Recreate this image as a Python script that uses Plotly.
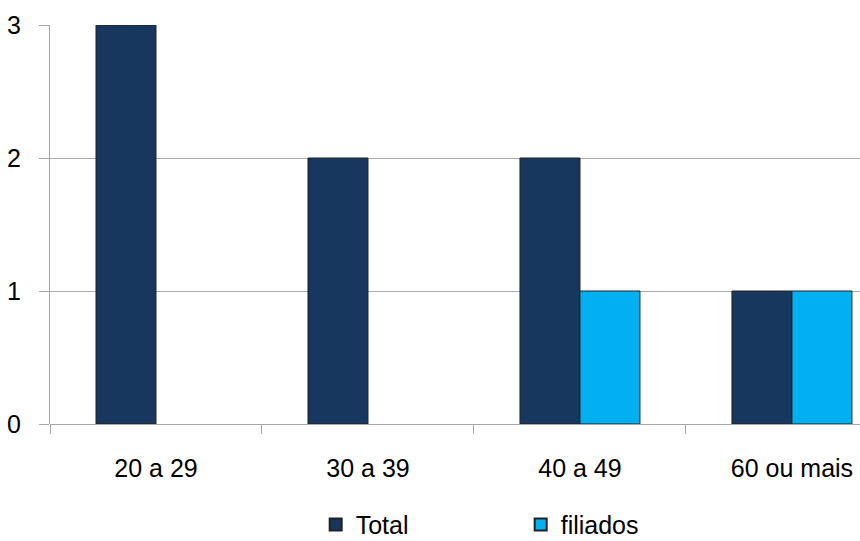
import plotly.graph_objects as go

categories = ["20 a 29", "30 a 39", "40 a 49", "60 ou mais"]
total = [3, 2, 2, 1]
filiados = [0, 0, 1, 1]
y_ticks = [0, 1, 2, 3]

font_family = "Liberation Sans, Arial, sans-serif"

def outline_widths(values):
    return [1 if v else 0 for v in values]

fig = go.Figure()
fig.add_trace(go.Bar(name="Total", x=categories, y=total,
                     marker=dict(color="#17375E",
                                 line=dict(color="#222222", width=outline_widths(total)))))
fig.add_trace(go.Bar(name="filiados", x=categories, y=filiados,
                     marker=dict(color="#00B0F0",
                                 line=dict(color="#222222", width=outline_widths(filiados)))))

fig.update_layout(
    width=860, height=541,
    margin=dict(l=50, r=0, t=25, b=117, autoexpand=False),
    paper_bgcolor="white", plot_bgcolor="white",
    barmode="group", bargap=0.434, bargroupgap=0,
    font=dict(family=font_family, size=25, color="black"),
    showlegend=True,
    legend=dict(orientation="h", x=0.328, xanchor="left", y=-0.195, yanchor="top",
                font=dict(size=25), entrywidth=160, entrywidthmode="pixels",
                itemsizing="constant"),
)
fig.update_xaxes(
    type="category", range=[-0.5, 3.321], automargin=False,
    showgrid=False, showline=False, zeroline=False,
    ticks="outside", tickson="boundaries", ticklen=9, tickcolor="#A6A6A6", tickwidth=1,
    ticklabelstandoff=27,
)
fig.update_yaxes(
    range=[0, 3], tickvals=y_ticks, automargin=False,
    showgrid=True, gridcolor="#ADADAD", gridwidth=1,
    showline=True, linecolor="#A6A6A6", linewidth=1,
    zeroline=True, zerolinecolor="#A6A6A6", zerolinewidth=1,
    ticks="outside", ticklen=10, tickcolor="#A6A6A6",
    ticklabelstandoff=13,
)

fig.write_html("out.html",
               config={"displayModeBar": False},
               post_script="document.body.style.margin='0';document.body.style.overflow='hidden';")
